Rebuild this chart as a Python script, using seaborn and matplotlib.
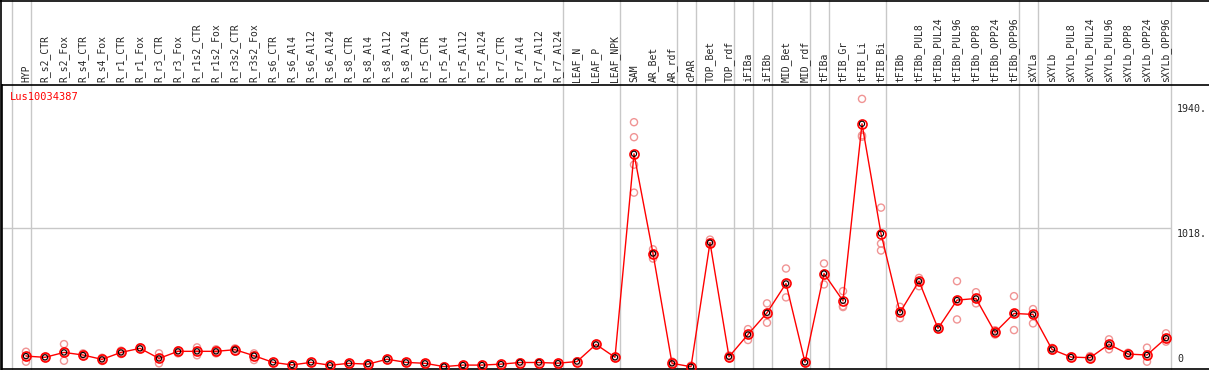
import pandas as pd
import matplotlib
matplotlib.use('Agg')
import matplotlib.pyplot as plt
import matplotlib.transforms as mtrans
from matplotlib.lines import Line2D
import seaborn as sns

# sample names (x categories)
samples = ['HYP', 'R_s2_CTR', 'R_s2_Fox', 'R_s4_CTR', 'R_s4_Fox', 'R_r1_CTR', 'R_r1_Fox',
           'R_r3_CTR', 'R_r3_Fox', 'R_r1s2_CTR', 'R_r1s2_Fox', 'R_r3s2_CTR', 'R_r3s2_Fox',
           'R_s6_CTR', 'R_s6_Al4', 'R_s6_Al12', 'R_s6_Al24', 'R_s8_CTR', 'R_s8_Al4',
           'R_s8_Al12', 'R_s8_Al24', 'R_r5_CTR', 'R_r5_Al4', 'R_r5_Al12', 'R_r5_Al24',
           'R_r7_CTR', 'R_r7_Al4', 'R_r7_Al12', 'R_r7_Al24', 'LEAF_N', 'LEAF_P', 'LEAF_NPK',
           'SAM', 'AR_Bet', 'AR_rdf', 'cPAR', 'TOP_Bet', 'TOP_rdf', 'iFIBa', 'iFIBb',
           'MID_Bet', 'MID_rdf', 'tFIBa', 'tFIB_Gr', 'tFIB_Li', 'tFIB_Bi', 'tFIBb',
           'tFIBb_PUL8', 'tFIBb_PUL24', 'tFIBb_PUL96', 'tFIBb_OPP8', 'tFIBb_OPP24',
           'tFIBb_OPP96', 'sXYLa', 'sXYLb', 'sXYLb_PUL8', 'sXYLb_PUL24', 'sXYLb_PUL96',
           'sXYLb_OPP8', 'sXYLb_OPP24', 'sXYLb_OPP96']

# mean expression per sample
mean_values = [80, 71, 107, 88, 56, 107, 137, 63, 115, 115, 115, 127, 83,
               34, 15, 34, 13, 27, 21, 57, 34, 27, 3, 14, 14, 21, 33, 33, 28,
               40, 166, 71, 1565, 833, 27, 2, 913, 75, 239, 398, 613, 34,
               686, 486, 1785, 979, 401, 630, 283, 491, 503, 254, 393,
               386, 129, 73, 68, 166, 95, 88, 212]

# replicate values per sample
replicates = [[112, 80, 39], [75, 71, 68], [168, 107, 46], [100, 88, 78], [68, 56, 44],
              [120, 107, 95], [144, 137, 132], [100, 63, 27], [122, 115, 100],
              [144, 115, 86], [130, 115, 100], [137, 127, 115], [100, 83, 51],
              [36, 34, 32], [17, 15, 13], [36, 34, 32], [15, 13, 11], [29, 27, 25],
              [23, 21, 19], [59, 57, 55], [36, 34, 32], [29, 27, 25], [5, 3, 1],
              [16, 14, 12], [16, 14, 12], [23, 21, 19], [35, 33, 31], [35, 33, 31],
              [30, 28, 26], [42, 40, 38], [170, 166, 162], [75, 71, 67],
              [1797, 1687, 1485, 1280], [864, 833, 796], [40, 27, 15], [10, 2, 0],
              [935, 913, 905], [85, 75, 65], [278, 239, 198], [467, 398, 325],
              [723, 613, 511], [40, 34, 28], [760, 686, 606], [557, 447, 440],
              [1968, 1700, 1690], [1170, 906, 855], [442, 401, 359], [654, 630, 593],
              [290, 283, 276], [630, 491, 349], [549, 503, 467], [270, 254, 238],
              [520, 393, 271], [425, 386, 320], [140, 129, 120], [78, 73, 68],
              [80, 68, 58], [203, 166, 130], [105, 95, 88], [142, 88, 39],
              [247, 212, 186]]

# group boundaries (drawn after these sample indices)
separators_after = [-1, 0, 28, 31, 34, 35, 37, 38, 39, 41, 42, 45, 52, 53, 60]
y_ticks = [0, 1018, 1940]
y_tick_labels = ['0', '1018.', '1940.']
gene = 'Lus10034387'

mean_df = pd.DataFrame({'idx': range(len(samples)), 'value': mean_values})
rep_df = pd.DataFrame([(i, v) for i, reps in enumerate(replicates) for v in reps],
                      columns=['idx', 'value'])

sns.set_style('white')
plt.rcParams['font.family'] = ['DejaVu Sans Mono']

W, H = 1209, 370
fig = plt.figure(figsize=(W / 100, H / 100), dpi=100)
ax = fig.add_axes([2 / W, 1 / H, 1 - 2 / W, 284 / H])
ax.set_xlim(-24 / 19, 1183 / 19)
ax.set_ylim(-14.7, 2070)

grid_c = '#c8c8c8'
for s in separators_after:
    ax.axvline(s + 0.24, ymin=0, ymax=369 / 284, color=grid_c, lw=1.0,
               clip_on=False, zorder=0)
ax.hlines(y_ticks[1], ax.get_xlim()[0], separators_after[-1] + 0.24,
          color=grid_c, lw=1.0, zorder=0)

sns.scatterplot(data=rep_df, x='idx', y='value', ax=ax, marker='o', s=26,
                facecolor='none', edgecolor='#f09494', linewidth=1.0, zorder=2)
sns.lineplot(data=mean_df, x='idx', y='value', ax=ax, color='red', lw=1.0,
             marker='o', markersize=6.5, markerfacecolor='none',
             markeredgecolor='red', markeredgewidth=1.2, zorder=3)
sns.scatterplot(data=mean_df, x='idx', y='value', ax=ax, marker='o', s=14,
                facecolor='none', edgecolor='black', linewidth=0.8, zorder=4)

ax.set_xlabel('')
ax.set_ylabel('')
ax.set_xticks([])
ax.set_yticks([])
for side in ['left', 'top', 'bottom']:
    ax.spines[side].set_color('black')
    ax.spines[side].set_linewidth(1.2)
ax.spines['right'].set_visible(False)

# sample names above the plot
for i, name in enumerate(samples):
    ax.text(i, 1 + 3 / 284, name, transform=ax.get_xaxis_transform(), rotation=90,
            ha='center', va='bottom', fontsize=7, clip_on=False)

# value labels on the right
lab_tr = mtrans.blended_transform_factory(fig.transFigure, ax.transData)
for v, lab in zip(y_ticks, y_tick_labels):
    ax.text(1177 / W, v + (25 if v == 0 else -8), lab, transform=lab_tr,
            ha='left', va='bottom' if v == 0 else 'top', fontsize=7.2, clip_on=False)

fig.text(10 / W, 1 - 97 / H, gene, color='red', ha='left', va='center', fontsize=7.5)

# outer frame
fig.add_artist(Line2D([0, 1], [1 - 0.6 / H, 1 - 0.6 / H], color='black', lw=1.2))
fig.add_artist(Line2D([1.2 / W, 1.2 / W], [0, 1], color='black', lw=1.2))

fig.savefig('out.png', dpi=100)
